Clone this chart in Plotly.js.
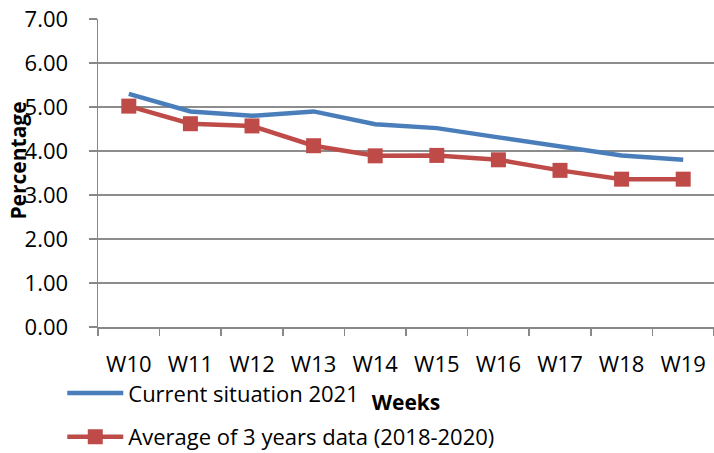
<!DOCTYPE html>
<html><head><meta charset="utf-8">
<script src="https://cdn.plot.ly/plotly-3.0.1.min.js"></script>
<style>html,body{margin:0;padding:0;background:#fff}</style>
</head><body><div id="chart" style="width:714px;height:453px"></div>
<script>
const weeks = ["W10","W11","W12","W13","W14","W15","W16","W17","W18","W19"];
const current2021 = [5.30, 4.90, 4.80, 4.90, 4.61, 4.52, 4.31, 4.10, 3.90, 3.80];
const avg2018_2020 = [5.02, 4.62, 4.57, 4.12, 3.89, 3.90, 3.80, 3.56, 3.36, 3.36];
const yTicks = [0,1,2,3,4,5,6,7];
const yTickText = yTicks.map(v => v.toFixed(2));

const FONT = "Open Sans, sans-serif";
const traces = [
  {x: weeks, y: current2021, type: "scatter", mode: "lines", name: "Current situation 2021",
   line: {color: "#4A7EBB", width: 4.5}, legend: "legend"},
  {x: weeks, y: avg2018_2020, type: "scatter", mode: "lines+markers", name: "Average of 3 years data (2018-2020)",
   line: {color: "#BE4B48", width: 4.5}, marker: {symbol: "square", size: 15, color: "#BE4B48"}, legend: "legend2"}
];
const layout = {
  width: 714, height: 453,
  margin: {l: 98, r: 0, t: 19, b: 126, autoexpand: false},
  paper_bgcolor: "#fff", plot_bgcolor: "#fff",
  font: {family: FONT, size: 22, color: "#000"},
  showlegend: true,
  xaxis: {type: "category", tickson: "boundaries", ticks: "outside", ticklen: 7, tickwidth: 1.5, tickcolor: "#888",
    showline: true, linecolor: "#888", linewidth: 1.5, showgrid: false, zeroline: false,
    ticklabelstandoff: 17, tickfont: {family: FONT, size: 22},
    title: {text: "<b>Weeks</b>", font: {family: FONT, size: 21}, standoff: 18},
    range: [-0.5, 9.5], fixedrange: true},
  yaxis: {range: [0, 7], tickvals: yTicks, ticktext: yTickText, ticks: "outside", ticklen: 8, tickwidth: 1.5, tickcolor: "#888",
    showline: true, linecolor: "#888", linewidth: 1.5, showgrid: true, gridcolor: "#8c8c8c", gridwidth: 1.5,
    zeroline: false, ticklabelstandoff: 16, tickfont: {family: FONT, size: 22}, fixedrange: true},
  legend: {x: -0.058, y: -0.215, xanchor: "left", yanchor: "middle", bgcolor: "rgba(0,0,0,0)",
    font: {family: FONT, size: 22}, itemwidth: 56},
  legend2: {x: -0.058, y: -0.357, xanchor: "left", yanchor: "middle", bgcolor: "rgba(0,0,0,0)",
    font: {family: FONT, size: 22}, itemwidth: 56},
  annotations: [{text: "<b>Percentage</b>", textangle: -90, xref: "paper", yref: "paper",
    x: -0.13, y: 0.54, xanchor: "center", yanchor: "middle", showarrow: false,
    font: {family: FONT, size: 21, color: "#000"}}]
};
Plotly.newPlot("chart", traces, layout, {displayModeBar: false, staticPlot: true});
</script></body></html>
